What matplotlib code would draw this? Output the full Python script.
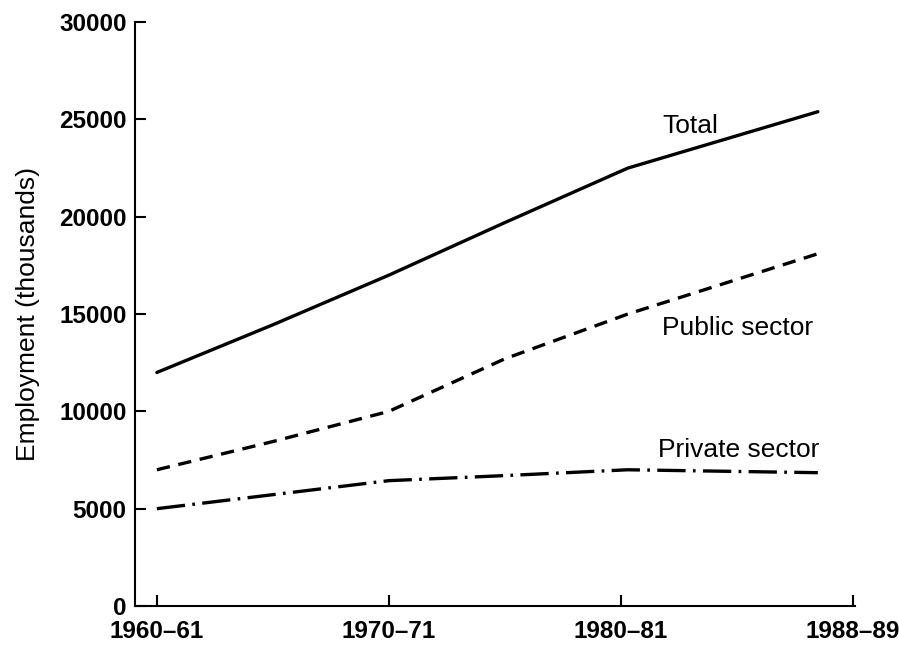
import matplotlib
matplotlib.use('Agg')
import matplotlib.pyplot as plt

# ── data (thousands) ───────────────────────────────────────────────────────────
years = [1960, 1965, 1970, 1975, 1980.3, 1988.5]
total = [12000, 14450, 17000, 19700, 22500, 25400]
public = [7000, 8450, 10000, 12700, 15000, 18100]
private = [5000, 5720, 6440, 6700, 7000, 6850]

tick_pos = [1960, 1970, 1980, 1990]
tick_labels = ["1960–61", "1970–71", "1980–81", "1988–89"]
y_ticks = [0, 5000, 10000, 15000, 20000, 25000, 30000]

plt.rcParams['font.family'] = ['Liberation Sans', 'DejaVu Sans']

fig = plt.figure(figsize=(8.99, 6.53), dpi=100)
ax = fig.add_axes([0.150, 0.072, 0.801, 0.894])

ax.plot(years, total, color='black', lw=2.4, solid_capstyle='round')
ax.plot(years, public, color='black', lw=2.4, linestyle=(0, (4.0, 2.6)))
ax.plot(years, private, color='black', lw=2.4, linestyle=(0, (8.5, 2.2, 0.8, 2.2)))

ax.text(1981.8, 24300, "Total", fontsize=19, ha='left', va='baseline')
ax.text(1981.8, 13950, "Public sector", fontsize=19, ha='left', va='baseline')
ax.text(1981.6, 7680, "Private sector", fontsize=19, ha='left', va='baseline')

ax.set_xlim(1959.05, 1990.1)
ax.set_ylim(0, 30000)
ax.set_xticks(tick_pos)
ax.set_xticklabels(tick_labels)
ax.set_yticks(y_ticks)
ax.set_yticklabels([str(v) for v in y_ticks])

ax.spines['top'].set_visible(False)
ax.spines['right'].set_visible(False)
for s in ('left', 'bottom'):
    ax.spines[s].set_linewidth(1.5)

ax.tick_params(axis='both', direction='in', length=8, width=1.5, labelsize=17.5)
ax.tick_params(axis='x', pad=10)
ax.tick_params(axis='y', pad=6)
for lab in ax.get_xticklabels() + ax.get_yticklabels():
    lab.set_fontweight('bold')

ax.set_ylabel("Employment (thousands)", fontsize=19, labelpad=14)

fig.savefig("out.png", dpi=100)
